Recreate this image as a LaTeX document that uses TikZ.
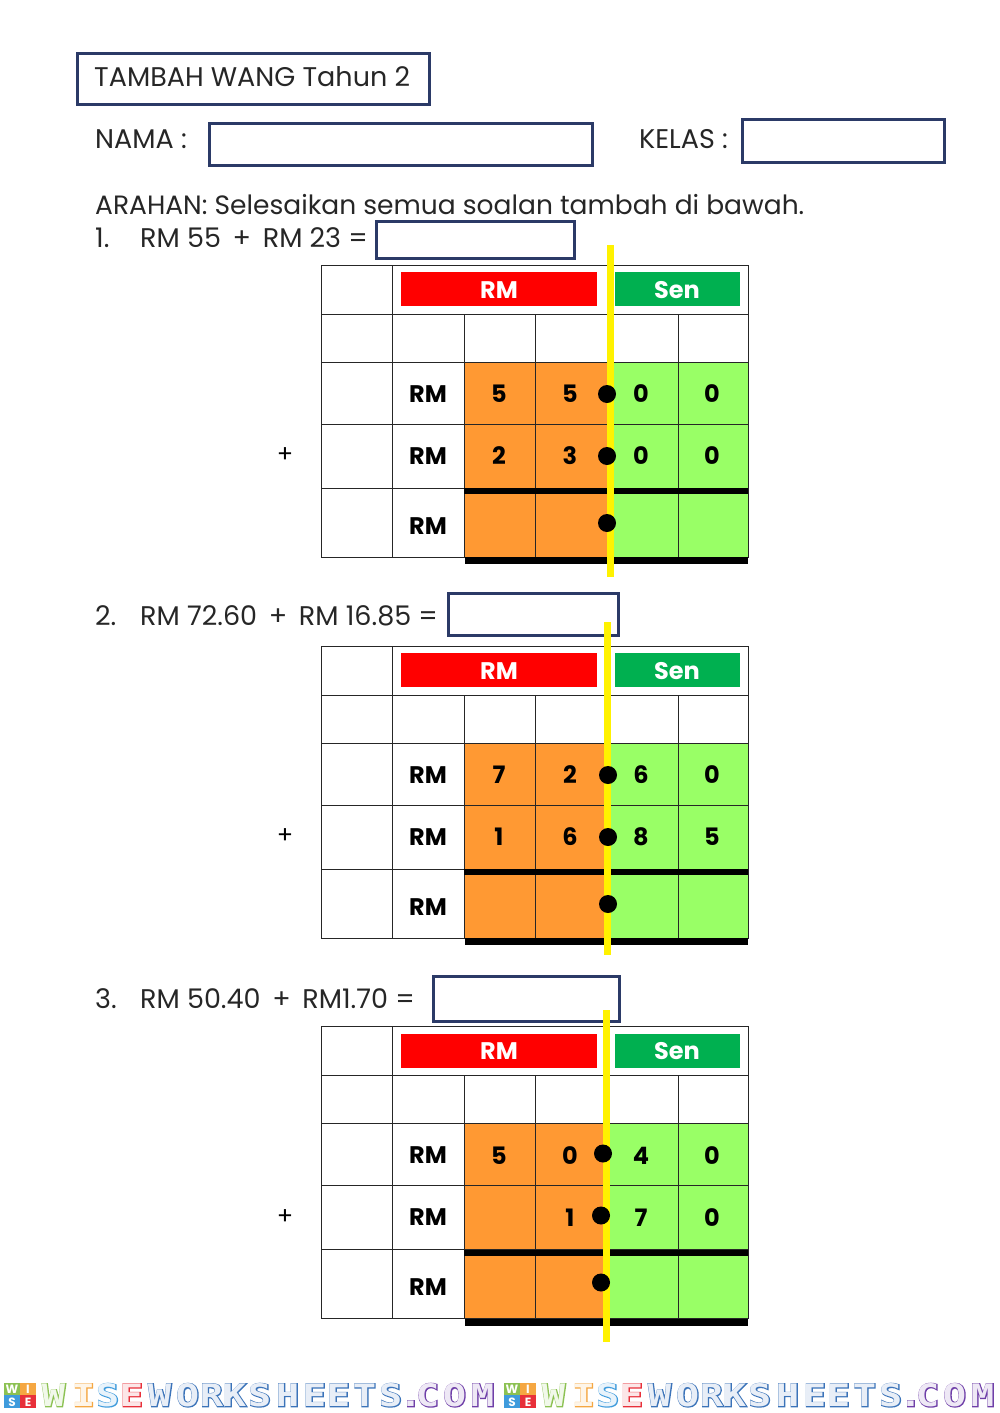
\documentclass[tikz,border=0pt]{standalone}
\usepackage{fontspec}
\setmainfont{Poppins}
\newfontfamily\wmfatfont[FakeBold=5,FakeStretch=1.25]{DejaVu Sans Mono Bold}
\newfontfamily\wmfont[FakeStretch=1.25]{DejaVu Sans Mono Bold}
\definecolor{navy}{HTML}{2B3A67}
\definecolor{rmred}{HTML}{FF0000}
\definecolor{sengreen}{HTML}{00B050}
\definecolor{rmorange}{HTML}{FF9933}
\definecolor{senlime}{HTML}{99FF66}
\definecolor{wisegreen}{HTML}{8CC152}
\definecolor{wiseorange}{HTML}{F5A742}
\definecolor{wiseblue}{HTML}{3F9BDC}
\definecolor{wisered}{HTML}{E8303A}
\definecolor{wavesblue}{HTML}{3B73B9}
\definecolor{wavepurple}{HTML}{6F3FA8}
\tikzset{
  answerbox/.style={draw=navy,line width=3pt},
  plain/.style={anchor=base west,inner sep=0pt,font=\fontsize{27}{27}\selectfont,text=black!85},
  cell/.style={inner sep=0pt,font=\fontsize{24}{24}\selectfont\bfseries},
  header/.style={cell,text=white},
  grid/.style={draw=black!85,line width=1pt},
  bar/.style={fill=black},
  logoletter/.style={inner sep=0pt,text=white,font=\fontsize{12}{12}\selectfont\bfseries},
  wmback/.style={inner sep=0pt,text height=23pt,text depth=0pt,font=\fontsize{31}{31}\wmfatfont},
  wmfront/.style={inner sep=0pt,text height=23pt,text depth=0pt,font=\fontsize{31}{31}\wmfont},
}
\begin{document}
\begin{tikzpicture}[x=1pt,y=-1pt]
\useasboundingbox (0,0) rectangle (1000,1413);

\draw[answerbox] (77,54) rectangle (429,104);
\node[plain] (title) at (94,86) {TAMBAH WANG Tahun 2};
\node[plain] (nama) at (95,148) {NAMA :};
\draw[answerbox] (209,123) rectangle (592,165);
\node[plain] (kelas) at (639,148) {KELAS :};
\draw[answerbox] (742,119) rectangle (944,162);
\node[plain,font=\fontsize{26.5}{27}\selectfont] (arahan) at (95,214) {ARAHAN: Selesaikan semua soalan tambah di bawah.};

\node[plain] (numa) at (95,247) {1.};
\node[plain] (soala) at (140,247) {RM 55\, +\, RM 23 =};
\draw[answerbox] (376,221) rectangle (574,258);
\node[plain] (numb) at (95,625) {2.};
\node[plain] (soalb) at (140,625) {RM 72.60\, +\, RM 16.85 =};
\draw[answerbox] (448,593) rectangle (618,635);
\node[plain] (numc) at (95,1008) {3.};
\node[plain] (soalc) at (140,1008) {RM 50.40\, +\, RM1.70 =};
\draw[answerbox] (433,976) rectangle (619,1021);

\foreach \tb/\off/\yx/\ylo/\yhi/\dotx/\dotxa/\doty/\da/\db/\dc/\dd/\de/\df/\dg/\dh in {
  a/0/610/245/577/607/607/0/5/5/0/0/2/3/0/0,
  b/381/607/241/574/608/608/0/7/2/6/0/1/6/8/5,
  c/761.5/606/248.5/580.5/601/603/-2/5/0/4/0/{}/1/7/0}
{
\begin{scope}[shift={(0,\off)}]
\fill[rmorange] (464,362) rectangle (607,557);
\fill[senlime] (607,362) rectangle (748,557);
\fill[rmred] (401,272) rectangle (597,306);
\fill[sengreen] (615,272) rectangle (740,306);
\draw[grid] (321,265) rectangle (748,557);
\foreach \gy in {314,362,424,488}
  \draw[grid] (321,\gy)--(748,\gy);
\draw[grid] (392,265)--(392,557);
\foreach \gx in {464,535,678}
  \draw[grid] (\gx,314)--(\gx,557);
\fill[bar] (464,488) rectangle (748,494);
\fill[bar] (465,557) rectangle (748,564);
\node[header] (rm\tb) at (499,290) {RM};
\node[header] (sen\tb) at (677,290) {Sen};
\node[cell] (rma\tb) at (428,394) {RM};
\node[cell] (rmb\tb) at (428,456) {RM};
\node[cell] (rmc\tb) at (428,526) {RM};
\node[cell] (da\tb) at (499,394) {\da};
\node[cell] (db\tb) at (570,394) {\db};
\node[cell] (dc\tb) at (641,394) {\dc};
\node[cell] (dd\tb) at (712,394) {\dd};
\node[cell] (de\tb) at (499,456) {\de};
\node[cell] (df\tb) at (570,456) {\df};
\node[cell] (dg\tb) at (641,456) {\dg};
\node[cell] (dh\tb) at (712,456) {\dh};
\node[inner sep=0pt,font=\fontsize{24}{24}\selectfont] (plus\tb) at (285,455.5) {+};
\draw[yellow,line width=7pt] (\yx,\ylo)--(\yx,\yhi);
\fill (\dotxa,394+\doty) circle (9);
\fill (\dotx,456+\doty) circle (9);
\fill (\dotx,523+\doty) circle (9);
\end{scope}
}

\foreach \wm in {0,500}
{
\begin{scope}[shift={(\wm,0)}]
\fill[wisegreen] (4,1383) rectangle (20,1395);
\fill[wiseorange] (20,1383) rectangle (36,1395);
\fill[wiseblue] (4,1395) rectangle (20,1408);
\fill[wisered] (20,1395) rectangle (36,1408);
\node[logoletter] (lw\wm) at (12,1389) {W};
\node[logoletter] (li\wm) at (28,1389) {I};
\node[logoletter] (ls\wm) at (12,1402) {S};
\node[logoletter] (le\wm) at (28,1402) {E};
\foreach \ch/\cx/\col [count=\i] in {W/54/wisegreen,I/84/wiseorange,S/108/wiseblue,E/132/wisered,
  W/160/wavesblue,O/188/wavesblue,R/212/wavesblue,K/235/wavesblue,S/260/wavesblue,H/288/wavesblue,
  E/315/wavesblue,E/339/wavesblue,T/365/wavesblue,S/391/wavesblue,./411/wavepurple,C/428/wavepurple,
  O/455/wavepurple,M/483/wavepurple}
{
  \node[wmback,text=\col] (wma\wm-\i) at (\cx,1395) {\ch};
  \node[wmfront,text=\col!12] (wmb\wm-\i) at (\cx-.5,1394.5) {\ch};
}
\end{scope}
}
\end{tikzpicture}
\end{document}
